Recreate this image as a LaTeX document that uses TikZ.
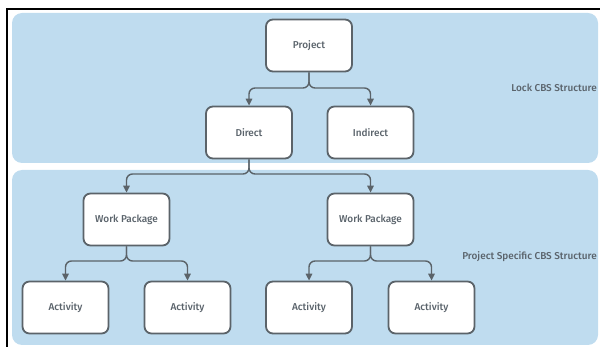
\documentclass[tikz,border=0pt]{standalone}
\usepackage{fontspec}
\setmainfont{Fira Sans}[UprightFont=* Medium]
\usetikzlibrary{arrows.meta}
\definecolor{panelblue}{HTML}{BFDCEF}
\definecolor{edgegray}{HTML}{5B6369}
\definecolor{textgray}{HTML}{5A636B}
\tikzset{
  panel/.style={fill=panelblue, draw=none, rounded corners=10pt},
  box/.style={draw=edgegray, line width=1.8pt, fill=white, rounded corners=7pt,
    minimum width=86pt, minimum height=52pt, inner sep=0pt,
    font=\fontsize{10}{11}\selectfont, text=textgray},
  link/.style={draw=edgegray, line width=1.4pt, rounded corners=6pt,
    -{Triangle[length=7pt,width=6.5pt]}},
  caption/.style={anchor=east, inner sep=0pt, font=\fontsize{10}{11}\selectfont, text=textgray}
}
\begin{document}
\begin{tikzpicture}[x=1pt,y=-1pt]
\useasboundingbox (0,0) rectangle (600,347);
% background panels
\fill[panel] (12,13) rectangle (598,163);
\fill[panel] (12,170) rectangle (598,345);
% outer frame
\draw[black, line width=1.3pt] (7,347) -- (7,9) -- (600,9);
% nodes
\node[box] (project) at (309,45.5) {Project};
\node[box] (direct) at (249,132.5) {Direct};
\node[box] (indirect) at (370.5,132.5) {Indirect};
\node[box] (wp1) at (126.5,219.5) {Work Package};
\node[box] (wp2) at (370.5,219.5) {Work Package};
\node[box] (a1) at (65.5,307.5) {Activity};
\node[box] (a2) at (187.5,307.5) {Activity};
\node[box] (a3) at (309,307.5) {Activity};
\node[box] (a4) at (431.5,307.5) {Activity};
% captions
\node[caption] (lock) at (597,88) {Lock CBS Structure};
\node[caption] (specific) at (597,257) {Project Specific CBS Structure};
% connectors
\draw[link] (project.south) -- (project.south |- 0,88) -- (direct.north |- 0,88) -- (direct.north);
\draw[link] (project.south) -- (project.south |- 0,88) -- (indirect.north |- 0,88) -- (indirect.north);
\draw[link] (direct.south) -- (direct.south |- 0,174) -- (wp1.north |- 0,174) -- (wp1.north);
\draw[link] (direct.south) -- (direct.south |- 0,174) -- (wp2.north |- 0,174) -- (wp2.north);
\draw[link] (wp1.south) -- (wp1.south |- 0,261) -- (a1.north |- 0,261) -- (a1.north);
\draw[link] (wp1.south) -- (wp1.south |- 0,261) -- (a2.north |- 0,261) -- (a2.north);
\draw[link] (wp2.south) -- (wp2.south |- 0,261) -- (a3.north |- 0,261) -- (a3.north);
\draw[link] (wp2.south) -- (wp2.south |- 0,261) -- (a4.north |- 0,261) -- (a4.north);
\end{tikzpicture}
\end{document}
